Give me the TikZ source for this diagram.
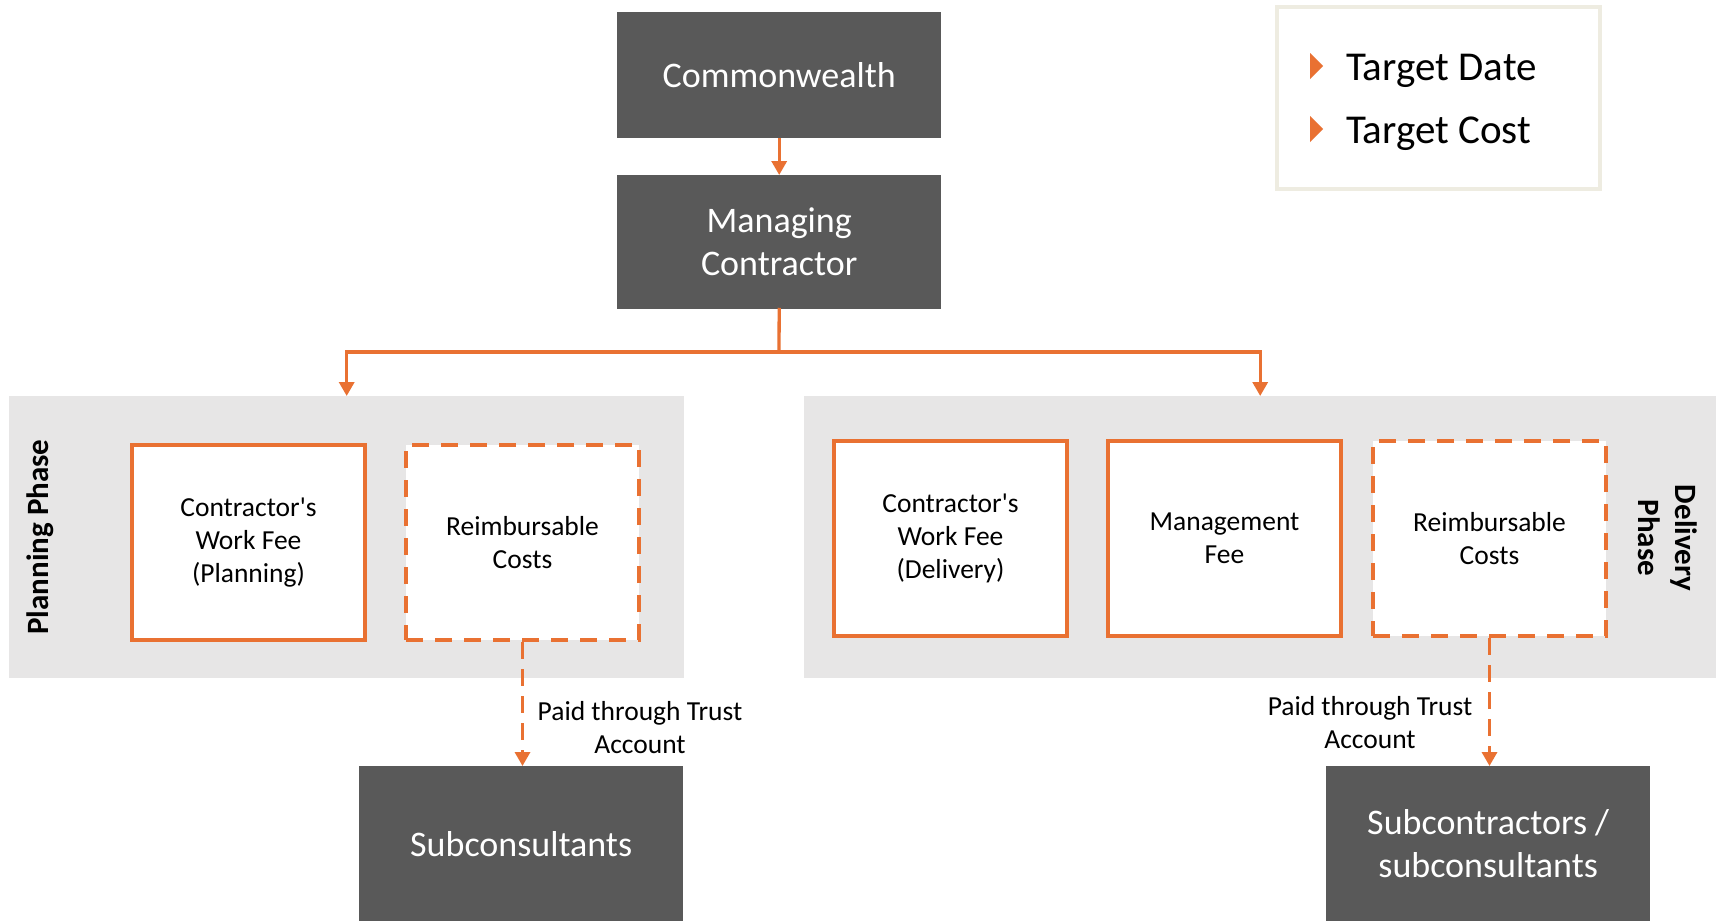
\documentclass[tikz,border=0pt]{standalone}
\usepackage{fontspec}
\setmainfont{Carlito}[Ligatures=TeXOff]
\usetikzlibrary{arrows.meta,calc}
\definecolor{dk}{HTML}{595959}
\definecolor{org}{HTML}{E97132}
\definecolor{pan}{HTML}{E7E6E6}
\definecolor{leg}{HTML}{EEECE1}
\begin{document}
\begin{tikzpicture}[x=1pt,y=-1pt,
  darkbox/.style={fill=dk,text=white,font=\fontsize{36}{43}\selectfont,align=center,inner sep=0pt,minimum width=324pt,anchor=north west},
  feebox/.style={draw=org,line width=4pt,fill=white,font=\fontsize{27.5}{33}\selectfont,align=center,minimum width=233pt,minimum height=195pt,inner sep=0pt,anchor=north west},
  rcbox/.style={feebox,dash pattern=on 17pt off 12pt},
  panel/.style={fill=pan,inner sep=0pt,anchor=north west,minimum height=282pt},
  phase/.style={font=\fontsize{31}{37}\bfseries\selectfont,align=center,inner sep=0pt},
  line/.style={draw=org,line width=3.3pt},
  conn/.style={line,-{Triangle[width=15pt,length=14pt]}},
  dconn/.style={conn,dash pattern=on 17pt off 10pt},
  lbl/.style={font=\fontsize{27.5}{33}\selectfont,align=center,inner sep=0pt},
  legtext/.style={font=\fontsize{41}{49}\selectfont,anchor=base west,inner sep=0pt}
]
\useasboundingbox (0,0) rectangle (1725,921);
\fill[white] (0,0) rectangle (1725,921);

% legend
\node[draw=leg,line width=3.5pt,fill=white,minimum width=323pt,minimum height=182pt,anchor=north west,inner sep=0pt] (legend) at (1275,5) {};
\fill[org] (1310,53) -- (1323,66) -- (1310,79) -- cycle;
\fill[org] (1310,116) -- (1323,129) -- (1310,142) -- cycle;
\node[legtext] (td) at (1346,80) {Target Date};
\node[legtext] (tc) at (1346,143) {Target Cost};

% top boxes
\node[darkbox,minimum height=126pt] (cw) at (617,12) {Commonwealth};
\node[darkbox,minimum height=134pt] (mc) at (617,175) {Managing\\Contractor};

% panels
\node[panel,minimum width=675pt] (plan) at (9,396) {};
\node[panel,minimum width=912pt] (deliv) at (804,396) {};
\node[phase,rotate=90] (pp) at (40,537) {Planning Phase};
\node[phase,rotate=-90] (dp) at (1668,538) {Delivery\\Phase};

% fee boxes
\node[feebox] (cwfp) at (130,443) {Contractor's\\Work Fee\\(Planning)};
\node[rcbox] (rcp) at (404,443) {Reimbursable\\Costs};
\node[feebox] (cwfd) at (832,439) {Contractor's\\Work Fee\\(Delivery)};
\node[feebox] (mf) at (1106,439) {Management\\Fee};
\node[rcbox] (rcd) at (1371,439) {Reimbursable\\Costs};

% bottom boxes
\node[darkbox,minimum height=155pt] (subc) at (359,766) {Subconsultants};
\node[darkbox,minimum height=155pt] (subcc) at (1326,766) {Subcontractors /\\subconsultants};

% connectors
\draw[conn] (cw.south) -- (mc.north);
\coordinate (j) at (779,352);
\draw[line,line cap=rect] (mc.south) -- (j);
\draw[conn] (j) -| (plan.north);
\draw[conn] (j) -| (deliv.north);
\draw[dconn] (rcp.south) -- (rcp.south |- subc.north);
\draw[dconn] (rcd.south) -- (rcd.south |- subcc.north);

% labels
\node[lbl] (l1) at (640,728) {Paid through Trust\\Account};
\node[lbl] (l2) at (1370,723) {Paid through Trust\\Account};
\end{tikzpicture}
\end{document}
